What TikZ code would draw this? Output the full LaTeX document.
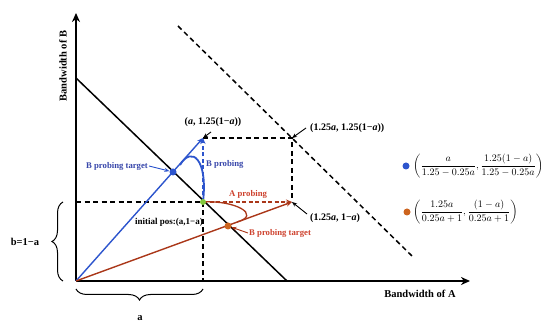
\documentclass[tikz,border=0pt]{standalone}
\usepackage{fontspec}
\setmainfont{Liberation Serif}
\usetikzlibrary{arrows.meta,decorations.pathreplacing}
\definecolor{bl}{RGB}{45,85,205}
\definecolor{rd}{RGB}{170,55,25}
\definecolor{bltxt}{RGB}{55,70,170}
\definecolor{rdtxt}{RGB}{205,65,45}
\definecolor{gr}{RGB}{130,200,60}
\definecolor{org}{RGB}{205,100,30}
\begin{document}
\begin{tikzpicture}[x=1pt,y=-1pt,
  lbl/.style={font=\bfseries\fontsize{8.7}{10}\selectfont, inner sep=1pt},
  clbl/.style={font=\bfseries\fontsize{10}{12}\selectfont, inner sep=1pt},
  axlbl/.style={font=\bfseries\fontsize{10.5}{12}\selectfont, inner sep=0pt},
  axis/.style={line width=1.9pt, -{Stealth[length=9pt,width=8pt]}},
  dsh/.style={line width=1.5pt, dash pattern=on 5pt off 3.5pt},
  ptr/.style={line width=0.9pt, -{Stealth[length=5pt,width=4pt]}},
  dotb/.style={circle, fill=bl, inner sep=0pt, minimum size=7pt},
  doto/.style={circle, fill=org, inner sep=0pt, minimum size=7pt},
  dotg/.style={circle, fill=gr, inner sep=0pt, minimum size=6pt},
  brc/.style={decorate, decoration={brace, amplitude=11pt}, line width=1pt}
]
\useasboundingbox (0,0) rectangle (550,334);
% key coordinates
\coordinate (O) at (76,281);
\coordinate (Ytop) at (76,13);
\coordinate (Xend) at (470,281);
\coordinate (L1) at (76,78);
\coordinate (L2) at (287,281);
\coordinate (D1) at (178,26);
\coordinate (D2) at (413,257);
\coordinate (G) at (203,202);
\coordinate (T) at (203,138);
\coordinate (TR) at (292,138);
\coordinate (R) at (292,202);
\coordinate (Yg) at (76,202);
\coordinate (Xg) at (203,281);
\coordinate (BA) at (180,165);
\coordinate (RA) at (237,222);
% dashed guides
\draw[dsh] (Yg) -- (G);
\draw[dsh] (G) -- (Xg);
\draw[dsh] (T) -- (TR) -- (R);
\draw[dsh] (D1) -- (D2);
% constraint line
\draw[line width=1.5pt] (L1) -- (L2);
% axes
\draw[axis] (O) -- (Ytop);
\draw[axis] (O) -- (Xend);
% rays
\draw[bl, line width=1.4pt, -{Stealth[length=6pt,width=5pt]}] (O) -- (T);
\draw[rd, line width=1.4pt, -{Stealth[length=6pt,width=5pt]}] (O) -- (R);
% probing arrows
\draw[bl, line width=1.3pt, dash pattern=on 4pt off 2.5pt, -{Stealth[length=6pt,width=5pt]}] (G) -- (T);
\draw[rd, line width=1.3pt, dash pattern=on 4pt off 2.5pt, -{Stealth[length=6pt,width=5pt]}] (G) -- (R);
% arcs
\draw[bl, line width=1.8pt] (G) .. controls (208,160) and (192,145) .. (BA);
\draw[rd, line width=1.3pt] (G) .. controls (235,200) and (262,215) .. (RA);
% dots
\node[dotb] (pb) at (173,172) {};
\node[doto] (po) at (228,226) {};
\node[dotg] (pg) at (G) {};
% labels
\node[clbl] (lt) at (213,122) {(\textit{a}, 1.25(1−\textit{a}))};
\coordinate (lta) at (211,132);
\draw[ptr] (lta) -- (T);
\node[clbl, anchor=west] (ltr) at (309,128) {(1.25\textit{a}, 1.25(1−\textit{a}))};
\coordinate (ltra) at (306,128);
\draw[ptr] (ltra) -- (TR);
\node[clbl, anchor=west] (lr) at (309,218) {(1.25\textit{a}, 1−\textit{a})};
\coordinate (lra) at (307,214);
\draw[ptr] (lra) -- (R);
\node[lbl, text=bltxt] (bpt) at (117,166) {B probing target};
\draw[ptr, bl] (bpt.east) -- (pb);
\node[lbl, text=bltxt, anchor=west] (bp) at (205,164) {B probing};
\node[lbl, text=rdtxt, anchor=west] (ap) at (228,194) {A probing};
\node[lbl, text=rdtxt, anchor=west] (rpt) at (248,233) {B probing target};
\draw[ptr, rd] (rpt.west) -- (po);
\node[lbl, font=\bfseries\fontsize{9}{10}\selectfont, anchor=east] (ip) at (204,222) {initial pos:(a,1−a)};
% axis labels
\node[axlbl, rotate=90] (yl) at (63,66) {Bandwidth of B};
\node[axlbl] (xl) at (420,294) {Bandwidth of A};
% braces
\draw[brc] (63,281) -- (63,202);
\node[axlbl] (bl1) at (25,242) {b=1−a};
\draw[brc] (203,289) -- (76,289);
\node[axlbl] (al) at (140,318) {a};
% legend
\node[dotb] (lgb) at (406,166) {};
\node[anchor=west, inner sep=0pt, font=\fontsize{10}{12}\selectfont] (fb) at (413,166)
  {$\displaystyle\left(\frac{a}{1.25-0.25a},\frac{1.25(1-a)}{1.25-0.25a}\right)$};
\node[doto] (lgo) at (407,212) {};
\node[anchor=west, inner sep=0pt, font=\fontsize{10}{12}\selectfont] (fo) at (413,212)
  {$\displaystyle\left(\frac{1.25a}{0.25a+1},\frac{(1-a)}{0.25a+1}\right)$};
\end{tikzpicture}
\end{document}
